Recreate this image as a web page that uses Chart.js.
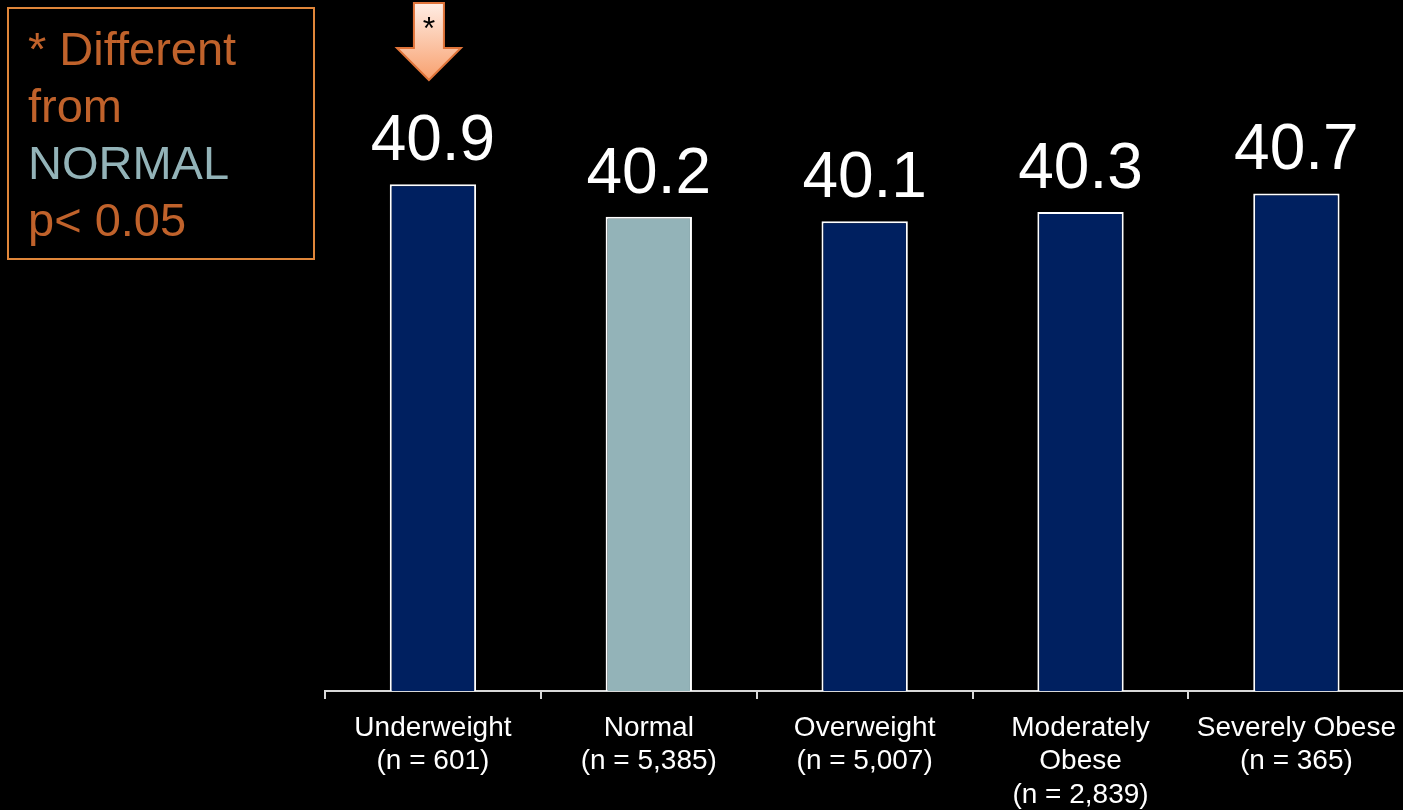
<!DOCTYPE html>
<html>
<head>
<meta charset="utf-8">
<script src="https://cdn.jsdelivr.net/npm/chart.js@4.4.0/dist/chart.umd.min.js"></script>
<style>
    html, body { margin: 0; background: #000; overflow: hidden; }
    #wrap { position: relative; width: 1408px; height: 810px; }
    #note {
        position: absolute; left: 7px; top: 7px; width: 304px; height: 249px;
        border: 2px solid #E0863A; box-sizing: content-box;
        font-family: "Liberation Sans", Arial, sans-serif; font-size: 47px; line-height: 57px;
        color: #C0622B; padding: 0; 
    }
    #note div { padding-left: 19px; }
    #note .first { padding-top: 11px; }
    #note .normal { color: #93B3B8; }
</style>
</head>
<body>
<div id="wrap">
    <canvas id="chart"></canvas>
    <div id="note">
        <div class="first">* Different</div>
        <div>from</div>
        <div class="normal">NORMAL</div>
        <div>p&lt; 0.05</div>
    </div>
</div>
<script>
const categories = [
    ['Underweight', '(n = 601)'],
    ['Normal', '(n = 5,385)'],
    ['Overweight', '(n = 5,007)'],
    ['Moderately', 'Obese', '(n = 2,839)'],
    ['Severely Obese', '(n = 365)']
];
const values = [40.9, 40.2, 40.1, 40.3, 40.7];
const barColors = ['#002060', '#93B3B8', '#002060', '#002060', '#002060'];

const FONT = '"Liberation Sans", Arial, sans-serif';

// value labels above each bar
const valueLabels = {
    id: 'valueLabels',
    afterDatasetsDraw(chart) {
        const ctx = chart.ctx;
        const meta = chart.getDatasetMeta(0);
        ctx.save();
        ctx.fillStyle = '#fff';
        ctx.font = '64px ' + FONT;
        ctx.textAlign = 'center';
        ctx.textBaseline = 'alphabetic';
        meta.data.forEach((bar, i) => {
            ctx.fillText(values[i].toFixed(1), bar.x, bar.y - 24);
        });
        ctx.restore();
    }
};

// down arrow with * over the significant bar
const starArrow = {
    id: 'starArrow',
    afterDatasetsDraw(chart) {
        const ctx = chart.ctx;
        const bar = chart.getDatasetMeta(0).data[0];
        const x = bar.x - 4;
        ctx.save();
        const grad = ctx.createLinearGradient(0, 3, 0, 80);
        grad.addColorStop(0, '#FFEDE4');
        grad.addColorStop(1, '#F8A06E');
        ctx.beginPath();
        ctx.moveTo(x - 15, 3);
        ctx.lineTo(x + 15, 3);
        ctx.lineTo(x + 15, 48);
        ctx.lineTo(x + 32, 48);
        ctx.lineTo(x, 80);
        ctx.lineTo(x - 32, 48);
        ctx.lineTo(x - 15, 48);
        ctx.closePath();
        ctx.fillStyle = grad;
        ctx.fill();
        ctx.strokeStyle = '#E0743A';
        ctx.lineWidth = 2;
        ctx.stroke();
        ctx.fillStyle = '#000';
        ctx.font = '32px ' + FONT;
        ctx.textAlign = 'center';
        ctx.textBaseline = 'middle';
        ctx.fillText('*', x, 30);
        ctx.restore();
    }
};

const ctx = document.getElementById('chart').getContext('2d');
new Chart(ctx, {
    type: 'bar',
    data: {
        labels: categories,
        datasets: [{
            data: values,
            backgroundColor: barColors,
            borderColor: '#fff',
            borderWidth: 2,
            barPercentage: 0.4,
            categoryPercentage: 1.0
        }]
    },
    options: {
        responsive: true,
        maintainAspectRatio: false,
        animation: false,
        layout: { padding: { left: 325, right: 0, top: 0, bottom: 0 } },
        plugins: {
            legend: { display: false },
            tooltip: { enabled: false }
        },
        scales: {
            y: {
                display: false,
                min: 30,
                max: 44.86
            },
            x: {
                afterFit(scale) { scale.height = 119; },
                grid: {
                    display: true,
                    drawOnChartArea: false,
                    drawTicks: true,
                    tickLength: 8,
                    color: '#D9D9D9',
                    lineWidth: 2,
                    offset: true
                },
                border: { display: true, color: '#D9D9D9', width: 2 },
                ticks: {
                    color: '#fff',
                    font: { family: FONT, size: 28, lineHeight: 1.2 },
                    padding: 12,
                    maxRotation: 0,
                    autoSkip: false
                }
            }
        }
    },
    plugins: [valueLabels, starArrow]
});
</script>
</body>
</html>
